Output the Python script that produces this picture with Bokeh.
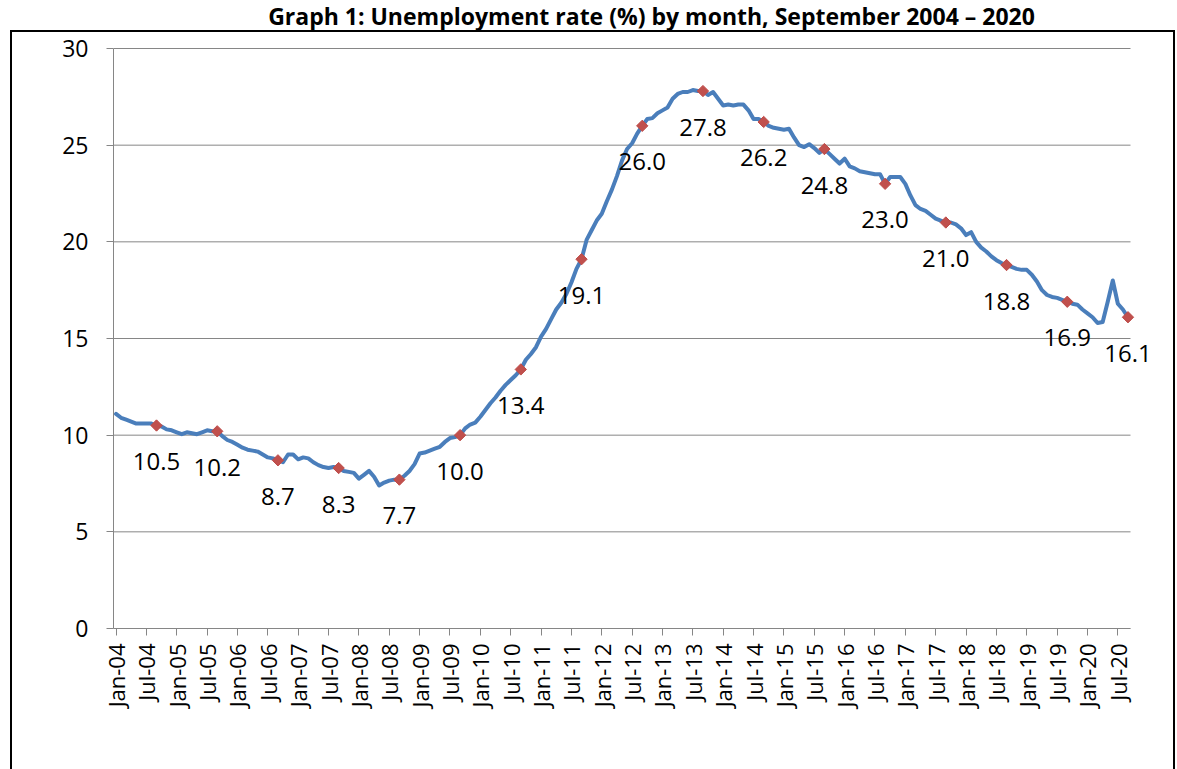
import math
from bokeh.plotting import figure
from bokeh.models import Range1d, FixedTicker, Label, LabelSet, ColumnDataSource, InlineStyleSheet
from bokeh.embed import file_html
from bokeh.resources import INLINE
from bokeh.core.properties import value

title_text = "Graph 1: Unemployment rate (%) by month, September 2004 \u2013 2020"
start_year = 2004
month_names = ["Jan", "Feb", "Mar", "Apr", "May", "Jun",
               "Jul", "Aug", "Sep", "Oct", "Nov", "Dec"]

# monthly unemployment rate (%), Jan-04 .. Sep-20
rate_2004 = [11.1, 10.9, 10.8, 10.7, 10.6, 10.6, 10.6, 10.6, 10.5, 10.45, 10.3, 10.25]
rate_2005 = [10.15, 10.05, 10.15, 10.1, 10.05, 10.15, 10.25, 10.2, 10.2, 9.95, 9.75, 9.65]
rate_2006 = [9.5, 9.35, 9.25, 9.2, 9.15, 9.0, 8.85, 8.8, 8.7, 8.6, 9.0, 9.0]
rate_2007 = [8.75, 8.85, 8.8, 8.6, 8.45, 8.35, 8.3, 8.35, 8.3, 8.15, 8.1, 8.05]
rate_2008 = [7.75, 7.95, 8.15, 7.85, 7.4, 7.55, 7.65, 7.7, 7.7, 7.9, 8.15, 8.5]
rate_2009 = [9.05, 9.1, 9.2, 9.3, 9.4, 9.65, 9.85, 9.9, 10.0, 10.35, 10.55, 10.65]
rate_2010 = [10.95, 11.3, 11.65, 11.95, 12.3, 12.6, 12.85, 13.1, 13.4, 13.9, 14.2, 14.55]
rate_2011 = [15.1, 15.5, 16.0, 16.5, 16.85, 17.3, 17.9, 18.6, 19.1, 20.1, 20.6, 21.1]
rate_2012 = [21.45, 22.1, 22.7, 23.4, 24.2, 24.8, 25.1, 25.6, 26.0, 26.35, 26.4, 26.65]
rate_2013 = [26.8, 26.95, 27.4, 27.65, 27.75, 27.75, 27.85, 27.8, 27.8, 27.6, 27.75, 27.4]
rate_2014 = [27.05, 27.1, 27.05, 27.1, 27.1, 26.8, 26.35, 26.35, 26.2, 26.0, 25.9, 25.85]
rate_2015 = [25.8, 25.85, 25.4, 25.0, 24.9, 25.05, 24.85, 24.6, 24.8, 24.55, 24.3, 24.05]
rate_2016 = [24.3, 23.9, 23.8, 23.65, 23.6, 23.55, 23.5, 23.5, 23.0, 23.35, 23.35, 23.35]
rate_2017 = [23.0, 22.4, 21.9, 21.7, 21.6, 21.4, 21.2, 21.1, 21.0, 21.0, 20.9, 20.7]
rate_2018 = [20.35, 20.5, 20.0, 19.7, 19.5, 19.25, 19.05, 18.9, 18.8, 18.7, 18.6, 18.55]
rate_2019 = [18.55, 18.3, 17.95, 17.5, 17.25, 17.15, 17.1, 17.0, 16.9, 16.8, 16.75, 16.5]
rate_2020 = [16.3, 16.1, 15.8, 15.85, 16.9, 18.0, 16.8, 16.5, 16.1]

tick_labels = ["Jan-04", "Jul-04", "Jan-05", "Jul-05", "Jan-06", "Jul-06", "Jan-07", "Jul-07",
               "Jan-08", "Jul-08", "Jan-09", "Jul-09", "Jan-10", "Jul-10", "Jan-11", "Jul-11",
               "Jan-12", "Jul-12", "Jan-13", "Jul-13", "Jan-14", "Jul-14", "Jan-15", "Jul-15",
               "Jan-16", "Jul-16", "Jan-17", "Jul-17", "Jan-18", "Jul-18", "Jan-19", "Jul-19",
               "Jan-20", "Jul-20"]
y_ticks = [0, 5, 10, 15, 20, 25, 30]

rate = (rate_2004 + rate_2005 + rate_2006 + rate_2007 + rate_2008 + rate_2009 + rate_2010 +
        rate_2011 + rate_2012 + rate_2013 + rate_2014 + rate_2015 + rate_2016 + rate_2017 +
        rate_2018 + rate_2019 + rate_2020)
n = len(rate)
idx = list(range(n))
month_labels = [f"{month_names[i % 12]}-{(start_year + i // 12) % 100:02d}" for i in idx]
tick_pos = [month_labels.index(t) for t in tick_labels]
sept = [i for i in idx if month_names[i % 12] == "Sep"]
sept_vals = [rate[i] for i in sept]
sept_text = [f"{v:.1f}" for v in sept_vals]

# layout (pixels): plot area of the chart spans x 113..1130, y 48..628
W, H = 1177, 769
FL, FR, FT, FB = 113, 1130, 48, 628
YMIN, YMAX = y_ticks[0], y_ticks[-1]
X0, X1 = -0.5, n - 0.5
ux = (FR - FL) / (X1 - X0)          # px per month
uy = (FB - FT) / (YMAX - YMIN)      # px per unit

def px_x(px):
    return X0 + (px - FL) / ux

def px_y(py):
    return YMIN + (FB - py) / uy

# frame is extended to the canvas top/right so labels are not clipped
p = figure(width=W, height=H, output_backend="svg", toolbar_location=None,
           x_range=Range1d(X0, px_x(W)), y_range=Range1d(YMIN, px_y(0)),
           min_border_left=FL, min_border_right=0,
           min_border_top=0, min_border_bottom=H - FB)
p.outline_line_color = None
p.background_fill_color = "white"
p.border_fill_color = "white"

GRAY = "#868686"
FONT = "Open Sans"

p.xgrid.visible = False
p.ygrid.visible = False
p.segment(x0=[X0] * len(y_ticks), x1=[X1] * len(y_ticks), y0=y_ticks, y1=y_ticks,
          line_color=GRAY, line_width=1)

p.yaxis.bounds = (YMIN, YMAX)
p.yaxis.ticker = FixedTicker(ticks=y_ticks)
p.yaxis.axis_line_color = GRAY
p.yaxis.major_tick_line_color = GRAY
p.yaxis.minor_tick_line_color = None
p.yaxis.major_tick_in = 0
p.yaxis.major_tick_out = 7
p.yaxis.major_label_standoff = 18
p.yaxis.major_label_text_font = FONT
p.yaxis.major_label_text_font_size = "23px"
p.yaxis.major_label_text_color = "black"

p.xaxis.bounds = (X0, X1)
p.xaxis.ticker = FixedTicker(ticks=tick_pos)
p.xaxis.major_label_overrides = {t: lab for t, lab in zip(tick_pos, tick_labels)}
p.xaxis.major_label_orientation = math.pi / 2
p.xaxis.axis_line_color = GRAY
p.xaxis.major_tick_line_color = GRAY
p.xaxis.minor_tick_line_color = None
p.xaxis.major_tick_in = 0
p.xaxis.major_tick_out = 7
p.xaxis.major_label_standoff = 8
p.xaxis.major_label_text_font = FONT
p.xaxis.major_label_text_font_size = "22px"
p.xaxis.major_label_text_color = "black"

p.line(idx, rate, line_width=4, line_color="#4A7EBB", line_join="round", line_cap="round")
p.scatter(sept, sept_vals, marker="square", angle=math.pi / 4, size=8,
          fill_color="#C0504D", line_color="#BE4B48")

src = ColumnDataSource(dict(x=sept, y=sept_vals, t=sept_text))
p.add_layout(LabelSet(x="x", y="y", text="t", source=src, y_offset=-36,
                      text_align="center", text_baseline="middle",
                      text_font=value(FONT), text_font_size=value("24px"),
                      text_color="black"))

p.add_layout(Label(x=px_x(651), y=px_y(15), text=title_text, text_align="center",
                   text_baseline="alphabetic", text_font=FONT, text_font_style="bold",
                   text_font_size="23px", text_color="black"))

# outer chart border (black frame around the whole chart object)
p.stylesheets = [InlineStyleSheet(css="""
:host::after {
  content: "";
  position: absolute;
  left: 10px; top: 30px; width: 1165px; height: 739px;
  box-sizing: border-box;
  border: 2px solid black; border-bottom: none;
  pointer-events: none; z-index: 10;
}
""")]

open("out.html", "w").write(file_html(p, INLINE))
